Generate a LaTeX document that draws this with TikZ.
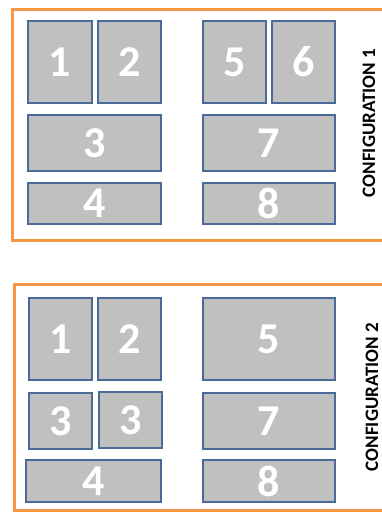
\documentclass[tikz,border=0pt]{standalone}
\usepackage{fontspec}
\setmainfont{Carlito}
\definecolor{frameorange}{HTML}{F79646}
\definecolor{boxgray}{HTML}{C0C0C0}
\definecolor{boxedge}{HTML}{4A6B9A}
\begin{document}
\begin{tikzpicture}[x=1pt,y=-1pt,
  panel/.style={draw=boxedge,fill=boxgray,line width=1.3pt,text=white,inner sep=0pt,font=\bfseries\fontsize{44}{44}\selectfont},
  frame/.style={draw=frameorange,line width=3pt},
  cfglabel/.style={rotate=90,font=\bfseries\fontsize{19}{19}\selectfont}]
\useasboundingbox (0,0) rectangle (382,512);
% configuration 1
\draw[frame] (400,9) -- (12,9) -- (12,240) -- (400,240);
\node[panel,minimum width=64pt,minimum height=82pt] (a1) at (60,62) {1};
\node[panel,minimum width=63pt,minimum height=82pt] (a2) at (129.5,62) {2};
\node[panel,minimum width=133pt,minimum height=56pt] (a3) at (94.5,143) {3};
\node[panel,minimum width=133pt,minimum height=41pt] (a4) at (94.5,203.5) {4};
\node[panel,minimum width=63pt,minimum height=82pt] (a5) at (234.5,62) {5};
\node[panel,minimum width=63pt,minimum height=82pt] (a6) at (303.5,62) {6};
\node[panel,minimum width=132pt,minimum height=56pt] (a7) at (269,143) {7};
\node[panel,minimum width=132pt,minimum height=41pt] (a8) at (269,203.5) {8};
\node[cfglabel] (l1) at (369,123) {CONFIGURATION 1};
% configuration 2
\draw[frame] (400,284) -- (14,284) -- (14,510) -- (400,510);
\node[panel,minimum width=63pt,minimum height=82pt] (b1) at (60.5,339) {1};
\node[panel,minimum width=63pt,minimum height=82pt] (b2) at (129.5,339) {2};
\node[panel,minimum width=63pt,minimum height=56pt] (b3) at (60.5,421) {3};
\node[panel,minimum width=63pt,minimum height=56pt] (b3b) at (130.5,420) {3};
\node[panel,minimum width=135pt,minimum height=42pt] (b4) at (93.5,481) {4};
\node[panel,minimum width=132pt,minimum height=82pt] (b5) at (269,339) {5};
\node[panel,minimum width=132pt,minimum height=56pt] (b7) at (269,421) {7};
\node[panel,minimum width=132pt,minimum height=42pt] (b8) at (269,481) {8};
\node[cfglabel] (l2) at (372,397) {CONFIGURATION 2};
\end{tikzpicture}
\end{document}
